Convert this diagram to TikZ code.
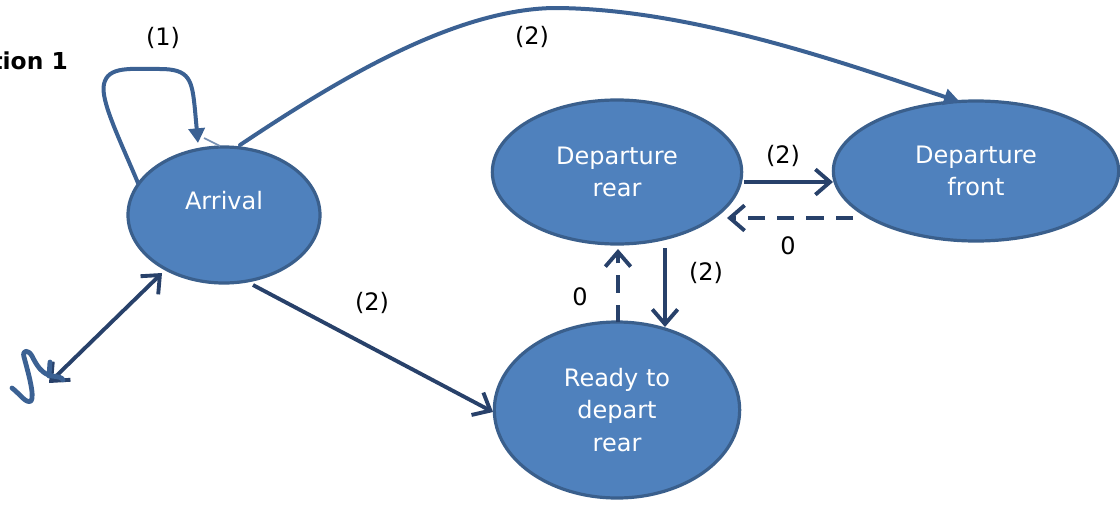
\documentclass[tikz,border=0pt]{standalone}
\usepackage{fontspec}
\setmainfont{DejaVu Sans}
\usetikzlibrary{shapes.geometric,arrows.meta,calc}
\definecolor{nodefill}{HTML}{4F81BD}
\definecolor{nodeborder}{HTML}{3A5F8C}
\definecolor{darkarrow}{HTML}{28416A}
\definecolor{looparrow}{HTML}{3B6193}
\tikzset{
  state/.style={ellipse, draw=nodeborder, line width=2.4pt, fill=nodefill, text=white,
    align=center, inner sep=0pt, font=\fontsize{18}{24.5}\selectfont},
  lbl/.style={text=black, font=\fontsize{18}{24.5}\selectfont, inner sep=0pt},
  conn/.style={draw=darkarrow, line width=2.9pt, -{Straight Barb[length=11pt,width=19pt]}},
  dconn/.style={conn, dash pattern=on 13pt off 9pt},
  bluepath/.style={draw=looparrow, line width=3pt, line cap=round, line join=round},
}
\begin{document}
\begin{tikzpicture}[x=0.75pt,y=-0.75pt]
\useasboundingbox (0,0) rectangle (1120,507);

% states
\node[state, minimum width=144pt, minimum height=102pt] (arr) at (224,215) {};
\node[text=white, font=\fontsize{18}{24.5}\selectfont] (arrtxt) at (224,201) {Arrival};
\node[state, minimum width=187pt, minimum height=108pt] (dr) at (617,172) {Departure\\rear};
\node[state, minimum width=214pt, minimum height=105pt] (df) at (976,171) {Departure\\front};
\node[state, minimum width=184pt, minimum height=132pt] (rdy) at (617,410) {Ready to\\depart\\rear};

% title fragment
\node[anchor=east, font=\fontsize{17.5}{24.5}\selectfont\bfseries, inner sep=0pt] (title) at (68,61) {tion 1};

% straight connectors
\draw[conn] ($(arr.center)+(29,70)$) -- ($(rdy.center)+(-124,2)$);
\draw[conn] ($(dr.center)+(127,10)$) -- ($(df.center)+(-143,11)$);
\draw[dconn] ($(df.center)+(-123,47)$) -- ($(dr.center)+(110,46)$);
\draw[conn] ($(dr.center)+(48,76)$) -- ($(rdy.center)+(48,-83)$);
\draw[dconn] ($(rdy.center)+(1,-88)$) -- ($(dr.center)+(1,77)$);

% double arrow to the start mark
\coordinate (start) at (49,383);
\draw[draw=darkarrow, line width=2.9pt, {Straight Barb[length=11pt,width=19pt]}-{Straight Barb[length=11pt,width=19pt]}]
  (start) -- ($(arr.center)+(-62,58)$);

% hand-drawn start mark
\draw[bluepath, line width=3.6pt] (12,388) .. controls (20,394) and (26,404) .. (31,401)
  .. controls (35,396) and (28,372) .. (24,357) .. controls (22,350) and (28,349) .. (32,356)
  .. controls (37,366) and (42,374) .. (52,376) .. controls (58,377) and (62,377) .. (63,380);
\draw[bluepath, line width=3.6pt] (50,362) -- (49,376);

% self loop on Arrival
\draw[bluepath, -{Triangle[length=11pt,width=12pt]}]
  ($(arr.center)+(-86,-32)$) .. controls (120,140) and (100,100) .. (104,84)
  .. controls (108,66) and (130,69) .. (160,69)
  .. controls (190,69) and (192,80) .. (195,110)
  -- ($(arr.center)+(-26,-72)$);
\draw[draw=looparrow!70!white, line width=1.2pt] ($(arr.center)+(-20,-77)$) -- ($(arr.center)+(-4,-69)$);

% big arc Arrival -> Departure front
\draw[bluepath, -{Triangle[length=12pt,width=12pt]}]
  ($(arr.center)+(16,-70)$) .. controls (330,85) and (450,10) .. (553,8)
  .. controls (690,8) and (850,65) .. ($(df.center)+(-16,-69)$);

% labels
\node[lbl] (l1) at (163,38) {(1)};
\node[lbl] (l2) at (532,37) {(2)};
\node[lbl] (l3) at (372,303) {(2)};
\node[lbl] (l4) at (783,156) {(2)};
\node[lbl] (l5) at (788,246) {0};
\node[lbl] (l6) at (706,273) {(2)};
\node[lbl] (l7) at (580,297) {0};
\end{tikzpicture}
\end{document}
